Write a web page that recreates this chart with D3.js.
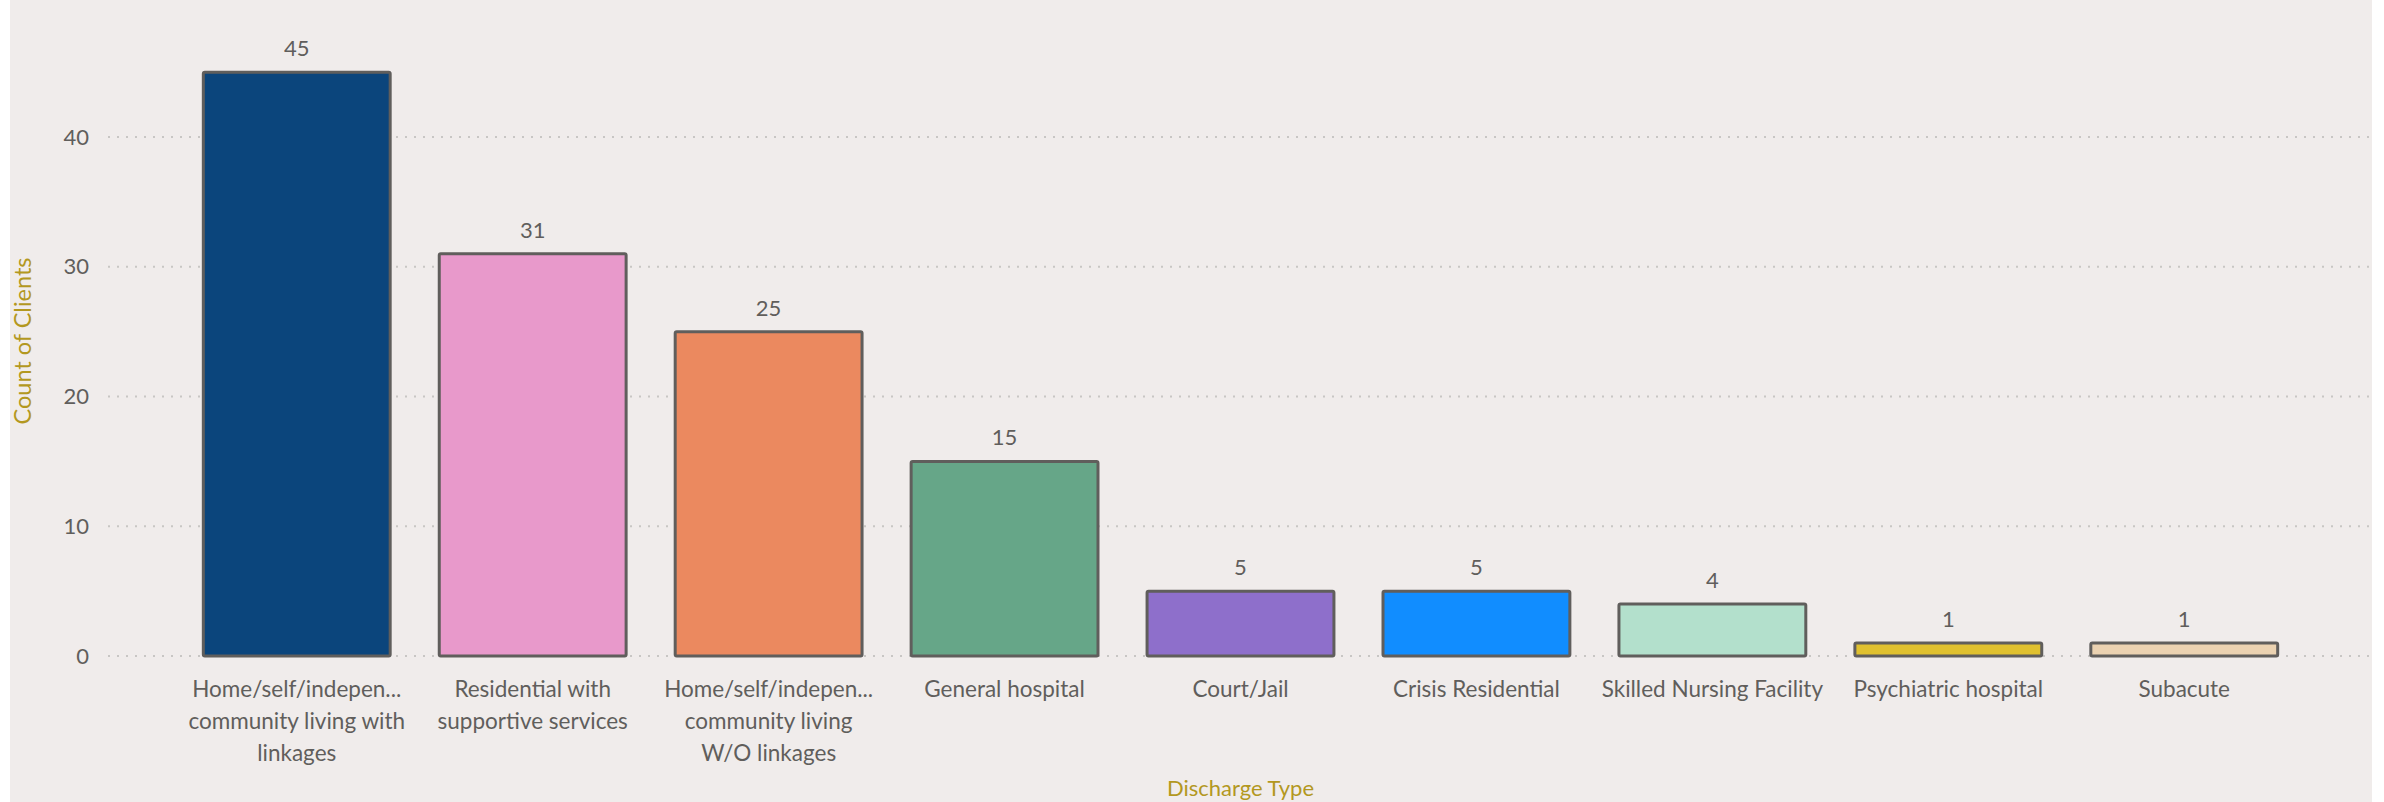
<!DOCTYPE html>
<html>
<head>
<meta charset="utf-8">
<script src="https://cdn.jsdelivr.net/npm/d3@7"></script>
<style>
  html, body { margin: 0; padding: 0; background: #ffffff; }
  svg { display: block; }
  text { font-family: Lato, "Open Sans", sans-serif; }
</style>
</head>
<body>
<svg id="chart" width="2384" height="802"></svg>
<script>
// ---- data ----
const categories = [
  "Home/self/indepen... community living with linkages",
  "Residential with supportive services",
  "Home/self/indepen... community living W/O linkages",
  "General hospital",
  "Court/Jail",
  "Crisis Residential",
  "Skilled Nursing Facility",
  "Psychiatric hospital",
  "Subacute"
];
const categoryLines = [
  ["Home/self/indepen...", "community living with", "linkages"],
  ["Residential with", "supportive services"],
  ["Home/self/indepen...", "community living", "W/O linkages"],
  ["General hospital"],
  ["Court/Jail"],
  ["Crisis Residential"],
  ["Skilled Nursing Facility"],
  ["Psychiatric hospital"],
  ["Subacute"]
];
const counts = [45, 31, 25, 15, 5, 5, 4, 1, 1];
const barColors = ["#0B457C", "#E899CB", "#EB895F", "#66A688", "#8E6FCB", "#118DFF", "#B3E0CC", "#E0C12F", "#EBD2B1"];
const yTicks = [0, 10, 20, 30, 40];
const xTitle = "Discharge Type";
const yTitle = "Count of Clients";

// ---- layout ----
const svg = d3.select("#chart");
const plotLeft = 108, plotRight = 2373, plotBottom = 656;

svg.append("rect")
  .attr("x", 10).attr("y", 0).attr("width", 2362).attr("height", 802)
  .attr("fill", "#F0ECEB");

const x = d3.scaleBand()
  .domain(categories)
  .range([plotLeft, plotRight])
  .paddingInner(0.208)
  .paddingOuter(0.404);

const y = d3.scaleLinear()
  .domain([0, 50])
  .range([plotBottom, plotBottom - 50 * 12.975]);

// gridlines
svg.append("g").selectAll("line")
  .data(yTicks)
  .join("line")
  .attr("x1", plotLeft).attr("x2", plotRight)
  .attr("y1", d => y(d)).attr("y2", d => y(d))
  .attr("stroke", "#C8C6C4")
  .attr("stroke-width", 2)
  .attr("stroke-dasharray", "2,7");

// y axis
const yAxis = d3.axisLeft(y).tickValues(yTicks).tickSize(0).tickPadding(0);
const gy = svg.append("g").attr("transform", "translate(89,0)").call(yAxis);
gy.select(".domain").remove();
gy.selectAll("text")
  .attr("fill", "#605E5C")
  .style("font-size", "22px")
  .style("font-family", "Lato, 'Open Sans', sans-serif");

// bars
svg.append("g").selectAll("rect")
  .data(counts)
  .join("rect")
  .attr("x", (d, i) => x(categories[i]))
  .attr("y", d => y(d))
  .attr("width", x.bandwidth())
  .attr("height", d => y(0) - y(d))
  .attr("rx", 1.5)
  .attr("fill", (d, i) => barColors[i])
  .attr("stroke", "#605E5C")
  .attr("stroke-width", 3);

// value labels
svg.append("g").selectAll("text")
  .data(counts)
  .join("text")
  .attr("x", (d, i) => x(categories[i]) + x.bandwidth() / 2)
  .attr("y", d => y(d) - 16)
  .attr("text-anchor", "middle")
  .attr("fill", "#605E5C")
  .style("font-size", "22px")
  .text(d => d);

// x axis category labels
const xAxis = d3.axisBottom(x).tickSize(0).tickFormat(() => "");
const gx = svg.append("g").attr("transform", `translate(0,${plotBottom})`).call(xAxis);
gx.select(".domain").remove();
gx.selectAll(".tick").each(function(d, i) {
  const t = d3.select(this).append("text")
    .attr("text-anchor", "middle")
    .attr("fill", "#605E5C")
    .style("font-size", "22.5px");
  categoryLines[i].forEach((line, j) => {
    t.append("tspan").attr("x", 0).attr("y", 41 + j * 32).text(line);
  });
});

// axis titles
svg.append("text")
  .attr("x", (plotLeft + plotRight) / 2)
  .attr("y", 796)
  .attr("text-anchor", "middle")
  .attr("fill", "#B3981F")
  .style("font-size", "22px")
  .text(xTitle);

svg.append("text")
  .attr("transform", "translate(31,341) rotate(-90)")
  .attr("text-anchor", "middle")
  .attr("fill", "#B3981F")
  .style("font-size", "23.5px")
  .text(yTitle);
</script>
</body>
</html>
